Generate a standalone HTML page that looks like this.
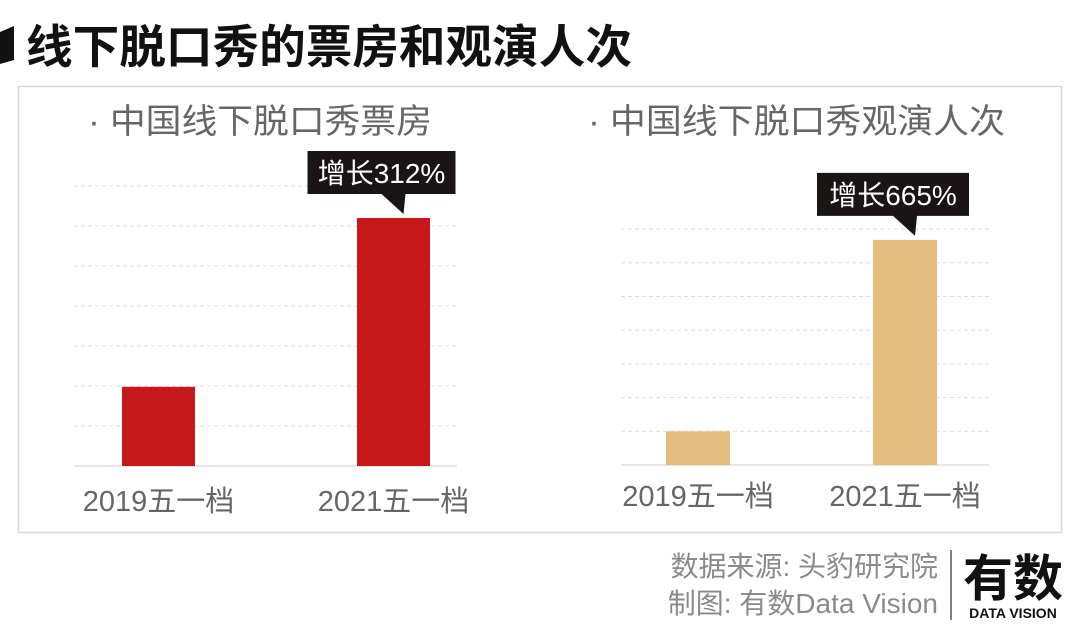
<!DOCTYPE html>
<html><head><meta charset="utf-8"><style>
body{margin:0;background:#fff;}
svg text{font-family:"Liberation Sans","Noto Sans CJK SC",sans-serif;}
</style></head><body>
<svg width="1080" height="638" viewBox="0 0 1080 638" xmlns="http://www.w3.org/2000/svg">
<rect x="0" y="0" width="1080" height="638" fill="#fff"/>
<path d="M0,32 L14,26 L14,60 L0,64 Z" fill="#111"/>
<text x="26" y="63" font-size="46" font-weight="bold" fill="#111" textLength="606" lengthAdjust="spacingAndGlyphs">线下脱口秀的票房和观演人次</text>
<rect x="18.5" y="86.5" width="1043" height="446" fill="none" stroke="#d8d8d8" stroke-width="1.5"/>
<text x="88" y="133" font-size="34" fill="#666" textLength="344" lengthAdjust="spacingAndGlyphs">· 中国线下脱口秀票房</text>
<text x="588" y="133" font-size="34" fill="#666" textLength="417" lengthAdjust="spacingAndGlyphs">· 中国线下脱口秀观演人次</text>
<g id="left"></g><g id="right"></g>
<text x="938" y="576" font-size="28" fill="#8a8a8a" text-anchor="end">数据来源: 头豹研究院</text>
<text x="938" y="613" font-size="28" fill="#8a8a8a" text-anchor="end">制图: 有数Data Vision</text>
<line x1="951" y1="550" x2="951" y2="620" stroke="#555" stroke-width="1.5"/>
<text x="1013" y="596" font-size="50" font-weight="bold" fill="#111" text-anchor="middle">有数</text>
<text x="1013" y="618" font-size="14" font-weight="bold" fill="#111" text-anchor="middle">DATA VISION</text>
</svg>
<script>
const categories = ["2019五一档", "2021五一档"];
const boxOfficeValues = [1.98, 6.2];
const audienceValues = [1.0, 6.68];
const growthLabels = ["增长312%", "增长665%"];
const NS = "http://www.w3.org/2000/svg";
function mk(tag, attrs, parent){const e=document.createElementNS(NS,tag);for(const k in attrs)e.setAttribute(k,attrs[k]);parent.appendChild(e);return e;}
function drawChart(g, cfg, values, label){
  const y = v => cfg.base - v*cfg.step;
  for(let i=1;i<=cfg.grid;i++){
    const l=mk("line",{x1:cfg.x0,x2:cfg.x1,y1:y(i),y2:y(i),stroke:"#ddd","stroke-width":1,"stroke-dasharray":"4,3"},g);
    
    
  }
  const b=mk("line",{x1:cfg.x0,x2:cfg.x1,y1:cfg.base,y2:cfg.base,stroke:"#ddd","stroke-width":1.5},g);
  
  
  values.forEach((v,i)=>{
    const r=mk("rect",{x:cfg.bx[i],y:y(v),width:cfg.bw,height:cfg.base-y(v),fill:cfg.color},g);
    
    
    const t=mk("text",{x:cfg.bx[i]+cfg.bw/2,y:cfg.labelY,"font-size":29,fill:"#666","text-anchor":"middle"},g);
    t.textContent=categories[i];
    
    
  });
  const top=y(values[1]);
  const cx=cfg.bx[1]+cfg.bw/2;
  const bx0=cx-cfg.cw/2-12, bx1=cx+cfg.cw/2-12, by1=top-24, by0=by1-43;
  const p=mk("path",{d:`M${bx0},${by0} H${bx1} V${by1} H${cx+12} L${cx+10},${top-4} L${cx-12},${by1} H${bx0} Z`,fill:"#1a1414"},g);
  
  
  const tt=mk("text",{x:(bx0+bx1)/2,y:by1-11,"font-size":28,fill:"#fff","text-anchor":"middle"},g);
  tt.textContent=label;
  
  
}
drawChart(document.getElementById("left"),{x0:74,x1:457,base:466,step:40,grid:7,bx:[122,357],bw:73,color:"#c8191a",labelY:511,cw:148},boxOfficeValues,growthLabels[0]);
drawChart(document.getElementById("right"),{x0:621,x1:989,base:465,step:33.7,grid:7,bx:[666,873],bw:64,color:"#e4bd7e",labelY:506,cw:152},audienceValues,growthLabels[1]);
</script>
</body></html>
